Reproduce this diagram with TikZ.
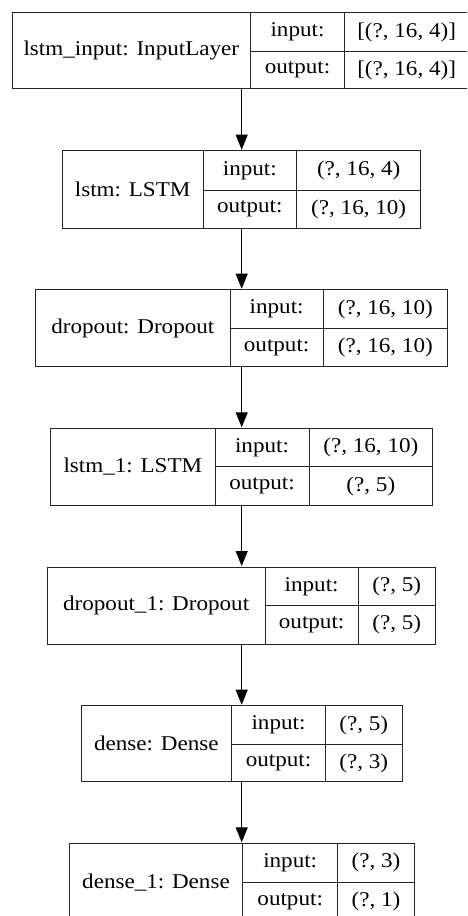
\documentclass[tikz,border=0pt]{standalone}
\usepackage{fontspec}
\setmainfont{Liberation Serif}[FakeStretch=1.1]
\usetikzlibrary{arrows.meta,fit}
\tikzset{
  layerbox/.style={draw=black!85, line width=1pt, inner sep=0pt, fill=white},
  cellline/.style={draw=black!85, line width=1pt},
  celltext/.style={inner sep=0pt, font=\fontsize{21}{23}\selectfont, text=black},
  conn/.style={draw=black, line width=1.1pt, -{Triangle[width=12pt,length=15pt]}, shorten >=0.5pt},
}
\begin{document}
\begin{tikzpicture}[x=1pt,y=-1pt]
\useasboundingbox (0,0) rectangle (467,916);
\clip (0,0) rectangle (467,916);
\fill[white] (0,0) rectangle (467,916);
\coordinate (ax) at (241.7,0);
\foreach \n/\l/\a/\b/\r/\t/\m/\bt/\lab/\in/\out in {
 1/12/250.7/344.3/469/12.3/51.7/88.7/{lstm\_input: InputLayer}/{[(?, 16, 4)]}/{[(?, 16, 4)]},
 2/62.3/203/296.7/420.7/150.7/190/228/{lstm: LSTM}/{(?, 16, 4)}/{(?, 16, 10)},
 3/35.7/230/323.3/447.3/289.7/328.7/366.7/{dropout: Dropout}/{(?, 16, 10)}/{(?, 16, 10)},
 4/50.7/215/309/432.7/428.3/466.7/505.3/{lstm\_1: LSTM}/{(?, 16, 10)}/{(?, 5)},
 5/47.3/265/358.3/435.3/567/605.7/644/{dropout\_1: Dropout}/{(?, 5)}/{(?, 5)},
 6/81/231.7/325.3/402.3/705.7/744.3/781.7/{dense: Dense}/{(?, 5)}/{(?, 3)},
 7/69.3/242.7/337.7/414.3/843.3/882.3/921/{dense\_1: Dense}/{(?, 3)}/{(?, 1)}}
{
  \node[layerbox, fit={(\l,\t) (\r,\bt)}] (L\n) {};
  \draw[cellline] (\a,\t) -- (\a,\bt);
  \draw[cellline] (\b,\t) -- (\b,\bt);
  \draw[cellline] (\a,\m) -- (\r,\m);
  \node[celltext] (L\n-name) at ({(\l+\a)/2},{(\t+\bt)/2}) {\lab};
  \node[celltext] (L\n-inkey) at ({(\a+\b)/2},{(\t+\m)/2}) {input:};
  \node[celltext] (L\n-outkey) at ({(\a+\b)/2},{(\m+\bt)/2}) {output:};
  \node[celltext] (L\n-inval) at ({(\b+\r)/2},{(\t+\m)/2}) {\in};
  \node[celltext] (L\n-outval) at ({(\b+\r)/2},{(\m+\bt)/2}) {\out};
}
\foreach \i/\j in {1/2,2/3,3/4,4/5,5/6,6/7}{
  \draw[conn] (L\i.south -| ax) -- (L\j.north -| ax);
}
\end{tikzpicture}
\end{document}
